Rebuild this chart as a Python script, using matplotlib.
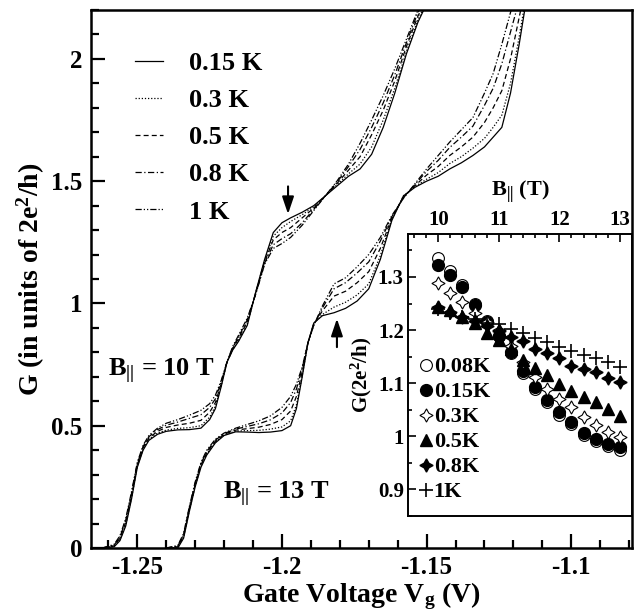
import matplotlib
matplotlib.use("Agg")
import matplotlib.pyplot as plt
from matplotlib.ticker import FixedLocator, MultipleLocator, FuncFormatter

plt.rcParams["font.family"] = ["Liberation Serif", "DejaVu Serif"]
plt.rcParams["font.weight"] = "bold"
plt.rcParams["axes.labelweight"] = "bold"
plt.rcParams["axes.unicode_minus"] = False
plt.rcParams["mathtext.fontset"] = "custom"
plt.rcParams["mathtext.rm"] = "Liberation Serif:bold"
plt.rcParams["mathtext.it"] = "Liberation Serif:bold"
plt.rcParams["mathtext.bf"] = "Liberation Serif:bold"

# ---- main panel: G vs gate voltage, B = 10 T ----
vg_10t = [-1.262, -1.258, -1.256, -1.254, -1.252, -1.250, -1.248, -1.246, -1.243, -1.240,
          -1.236, -1.232, -1.228, -1.225, -1.223, -1.221, -1.219, -1.217, -1.215, -1.212,
          -1.209, -1.206, -1.203, -1.200, -1.197, -1.193, -1.189, -1.185, -1.181, -1.177,
          -1.173, -1.169, -1.165, -1.161, -1.157, -1.153, -1.149]
g_10t_015 = [0.0, 0.005, 0.03, 0.09, 0.20, 0.33, 0.40, 0.44, 0.465, 0.477, 0.483, 0.484, 0.49,
             0.525, 0.57, 0.66, 0.76, 0.81, 0.845, 0.91, 1.05, 1.18, 1.29, 1.33, 1.35, 1.373,
             1.40, 1.44, 1.48, 1.52, 1.55, 1.61, 1.72, 1.86, 2.02, 2.15, 2.25]
g_10t_03 = [0.0, 0.007, 0.035, 0.095, 0.205, 0.335, 0.405, 0.445, 0.47, 0.482, 0.489, 0.492, 0.5,
            0.535, 0.58, 0.665, 0.76, 0.812, 0.85, 0.915, 1.048, 1.175, 1.275, 1.31, 1.335, 1.363,
            1.395, 1.44, 1.485, 1.53, 1.57, 1.64, 1.75, 1.88, 2.03, 2.16, 2.26]
g_10t_05 = [0.0, 0.009, 0.04, 0.105, 0.215, 0.34, 0.41, 0.45, 0.477, 0.493, 0.503, 0.51, 0.522,
            0.555, 0.595, 0.672, 0.76, 0.816, 0.857, 0.925, 1.045, 1.17, 1.26, 1.29, 1.31, 1.35,
            1.39, 1.44, 1.49, 1.545, 1.60, 1.69, 1.79, 1.91, 2.05, 2.175, 2.27]
g_10t_08 = [0.0, 0.012, 0.045, 0.113, 0.223, 0.345, 0.415, 0.455, 0.484, 0.502, 0.515, 0.53, 0.545,
            0.575, 0.61, 0.68, 0.76, 0.82, 0.863, 0.933, 1.042, 1.165, 1.24, 1.265, 1.285, 1.33,
            1.385, 1.44, 1.495, 1.56, 1.63, 1.72, 1.82, 1.935, 2.065, 2.19, 2.29]
g_10t_1 = [0.0, 0.015, 0.05, 0.12, 0.23, 0.35, 0.42, 0.46, 0.49, 0.51, 0.525, 0.543, 0.563,
           0.59, 0.625, 0.685, 0.76, 0.825, 0.87, 0.94, 1.04, 1.16, 1.225, 1.245, 1.27, 1.32,
           1.38, 1.44, 1.50, 1.57, 1.655, 1.75, 1.85, 1.96, 2.08, 2.20, 2.30]

# ---- main panel: B = 13 T ----
vg_13t = [-1.240, -1.236, -1.234, -1.232, -1.230, -1.228, -1.226, -1.223, -1.220, -1.216,
          -1.212, -1.208, -1.204, -1.200, -1.197, -1.195, -1.193, -1.191, -1.189, -1.186,
          -1.182, -1.178, -1.174, -1.170, -1.166, -1.162, -1.158, -1.154, -1.150, -1.146,
          -1.142, -1.138, -1.134, -1.130, -1.127, -1.124, -1.121, -1.118, -1.115]
g_13t_015 = [0.0, 0.0, 0.04, 0.15, 0.25, 0.33, 0.38, 0.43, 0.46, 0.475, 0.474, 0.472, 0.474, 0.48,
             0.50, 0.57, 0.70, 0.84, 0.92, 0.95, 0.962, 0.98, 1.01, 1.06, 1.18, 1.34, 1.44, 1.475,
             1.50, 1.52, 1.55, 1.575, 1.605, 1.64, 1.68, 1.72, 1.86, 2.06, 2.28]
g_13t_03 = [0.0, 0.002, 0.045, 0.155, 0.255, 0.335, 0.385, 0.433, 0.462, 0.478, 0.480, 0.481, 0.486,
            0.495, 0.52, 0.585, 0.705, 0.84, 0.918, 0.955, 0.985, 1.005, 1.035, 1.08, 1.195, 1.345,
            1.44, 1.478, 1.508, 1.535, 1.572, 1.60, 1.635, 1.675, 1.72, 1.77, 1.9, 2.09, 2.3]
g_13t_05 = [0.0, 0.005, 0.05, 0.16, 0.26, 0.34, 0.39, 0.437, 0.465, 0.482, 0.488, 0.494, 0.505,
            0.525, 0.56, 0.62, 0.72, 0.84, 0.915, 0.97, 1.03, 1.05, 1.085, 1.13, 1.225, 1.35,
            1.435, 1.482, 1.525, 1.56, 1.605, 1.64, 1.68, 1.74, 1.8, 1.87, 2.0, 2.17, 2.34]
g_13t_08 = [0.0, 0.008, 0.055, 0.165, 0.265, 0.345, 0.395, 0.441, 0.468, 0.486, 0.497, 0.508, 0.524,
            0.552, 0.595, 0.65, 0.735, 0.84, 0.912, 0.982, 1.06, 1.085, 1.125, 1.17, 1.255, 1.355,
            1.432, 1.487, 1.54, 1.585, 1.638, 1.68, 1.725, 1.81, 1.88, 1.98, 2.11, 2.24, 2.37]
g_13t_1 = [0.0, 0.01, 0.06, 0.17, 0.27, 0.35, 0.40, 0.445, 0.47, 0.49, 0.505, 0.52, 0.54, 0.575,
           0.62, 0.67, 0.74, 0.84, 0.91, 0.99, 1.08, 1.105, 1.15, 1.20, 1.27, 1.36, 1.43, 1.49,
           1.55, 1.605, 1.66, 1.71, 1.76, 1.86, 1.94, 2.06, 2.19, 2.30, 2.40]

temp_labels = ["0.15 K", "0.3 K", "0.5 K", "0.8 K", "1 K"]

# ---- inset: G on the half plateau vs parallel field ----
b_par = [10.0, 10.2, 10.4, 10.6, 10.8, 11.0, 11.2, 11.4, 11.6, 11.8, 12.0, 12.2, 12.4, 12.6, 12.8, 13.0]
g_008k = [1.335, 1.312, 1.285, 1.250, 1.218, 1.188, 1.157, 1.120, 1.090, 1.064, 1.041, 1.023, 1.003, 0.991, 0.981, 0.974]
g_015k = [1.322, 1.303, 1.281, 1.248, 1.216, 1.188, 1.159, 1.123, 1.093, 1.068, 1.045, 1.027, 1.007, 0.995, 0.985, 0.979]
g_03k = [1.289, 1.270, 1.253, 1.232, 1.215, 1.200, 1.170, 1.140, 1.112, 1.090, 1.071, 1.055, 1.036, 1.022, 1.009, 0.998]
g_05k = [1.244, 1.238, 1.225, 1.213, 1.194, 1.181, 1.165, 1.143, 1.128, 1.115, 1.099, 1.086, 1.074, 1.064, 1.052, 1.039]
g_08k = [1.243, 1.235, 1.225, 1.217, 1.207, 1.198, 1.187, 1.179, 1.165, 1.157, 1.148, 1.132, 1.126, 1.121, 1.110, 1.102]
g_1k = [1.240, 1.233, 1.225, 1.220, 1.213, 1.212, 1.203, 1.194, 1.186, 1.178, 1.169, 1.160, 1.153, 1.148, 1.140, 1.131]

line_styles = ["-", (0, (1, 1.5)), (0, (4, 2.5)), (0, (5, 2, 1, 2)), (0, (5, 1.6, 1, 1.6, 1, 1.6))]


def fmt(v, _pos):
    return f"{v:g}"


def bold_ticks(axis):
    for lab in axis.get_xticklabels() + axis.get_yticklabels():
        lab.set_fontweight("bold")


fig = plt.figure(figsize=(6.41, 6.12), dpi=100)
ax = fig.add_axes([0.142, 0.1046, 0.844, 0.8791])

curves_10t = [g_10t_015, g_10t_03, g_10t_05, g_10t_08, g_10t_1]
curves_13t = [g_13t_015, g_13t_03, g_13t_05, g_13t_08, g_13t_1]
for label, ls, g10, g13 in zip(temp_labels, line_styles, curves_10t, curves_13t):
    ax.plot(vg_10t, g10, color="black", lw=0.9, ls=ls, label=label)
    ax.plot(vg_13t, g13, color="black", lw=0.9, ls=ls)

ax.set_xlim(-1.266, -1.079)
ax.set_ylim(0, 2.2)
ax.xaxis.set_major_locator(FixedLocator([-1.25, -1.2, -1.15, -1.1]))
ax.xaxis.set_minor_locator(MultipleLocator(0.01))
ax.yaxis.set_major_locator(MultipleLocator(0.5))
ax.yaxis.set_minor_locator(MultipleLocator(0.1))
ax.xaxis.set_major_formatter(FuncFormatter(fmt))
ax.yaxis.set_major_formatter(FuncFormatter(fmt))
ax.tick_params(which="both", direction="in", top=False, right=False, labelsize=18, width=1.6)
ax.tick_params(which="major", length=10, pad=6)
ax.tick_params(which="minor", length=6)
for spine in ax.spines.values():
    spine.set_linewidth(1.8)
ax.set_xlabel("Gate Voltage V$_g$ (V)", fontsize=20, labelpad=1)
ax.set_ylabel("G (in units of 2e$^2$/h)", fontsize=20, labelpad=3)
bold_ticks(ax)

ax.legend(loc="upper left", bbox_to_anchor=(0.0813, 0.923), frameon=False, fontsize=19,
          handlelength=1.06, handletextpad=1.0, labelspacing=0.52, borderpad=0, borderaxespad=0)

ax.text(-1.2603, 0.72, "B$_{||}$ = 10 T", fontsize=19, ha="left", va="center")
ax.text(-1.2203, 0.217, "B$_{||}$ = 13 T", fontsize=19, ha="left", va="center")
ax.annotate("", xy=(-1.1979, 1.354), xytext=(-1.1979, 1.49),
            arrowprops=dict(arrowstyle="-|>,head_width=0.22,head_length=0.65", color="black",
                            lw=1.5, mutation_scale=16))
ax.annotate("", xy=(-1.1810, 0.949), xytext=(-1.1810, 0.81),
            arrowprops=dict(arrowstyle="-|>,head_width=0.22,head_length=0.65", color="black",
                            lw=1.5, mutation_scale=16))

# ---- inset ----
ins = fig.add_axes([0.6365, 0.1569, 0.3495, 0.4608])
ms = 8.5
ins.plot(b_par, g_008k, ls="none", marker="o", ms=ms, mfc="white", mec="black", mew=0.8, label="0.08K")
ins.plot(b_par, g_015k, ls="none", marker="o", ms=ms, mfc="black", mec="black", label="0.15K")
ins.plot(b_par, g_03k, ls="none", marker=(4, 1, 0), ms=ms + 1, mfc="white", mec="black", mew=0.8, label="0.3K")
ins.plot(b_par, g_05k, ls="none", marker="^", ms=ms, mfc="black", mec="black", label="0.5K")
ins.plot(b_par, g_08k, ls="none", marker=(4, 1, 0), ms=ms + 1, mfc="black", mec="black", label="0.8K")
ins.plot(b_par, g_1k, ls="none", marker="+", ms=ms + 1, mec="black", mew=1.2, label="1K")

ins.set_xlim(9.5, 13.2)
ins.set_ylim(0.85, 1.381)
ins.xaxis.set_major_locator(MultipleLocator(1))
ins.xaxis.set_minor_locator(MultipleLocator(0.2))
ins.yaxis.set_major_locator(MultipleLocator(0.1))
ins.yaxis.set_minor_locator(MultipleLocator(0.05))
ins.xaxis.set_major_formatter(FuncFormatter(fmt))
ins.yaxis.set_major_formatter(FuncFormatter(fmt))
ins.tick_params(which="both", direction="in", top=True, bottom=False, labeltop=True,
                labelbottom=False, right=False, labelsize=15, width=1.2)
ins.tick_params(which="major", length=6, pad=3)
ins.tick_params(which="minor", length=3)
for spine in ins.spines.values():
    spine.set_linewidth(1.4)
ins.xaxis.set_label_position("top")
ins.set_xlabel("B$_{||}$ (T)", fontsize=16, labelpad=10)
ins.set_ylabel("G(2e$^2$/h)", fontsize=15, labelpad=3)
bold_ticks(ins)
ins.legend(loc="upper left", bbox_to_anchor=(0.05, 0.564), frameon=False, fontsize=16,
           handlelength=0.6, handletextpad=0.05, labelspacing=0.2, borderpad=0, borderaxespad=0)

fig.savefig("out.png", dpi=100)
